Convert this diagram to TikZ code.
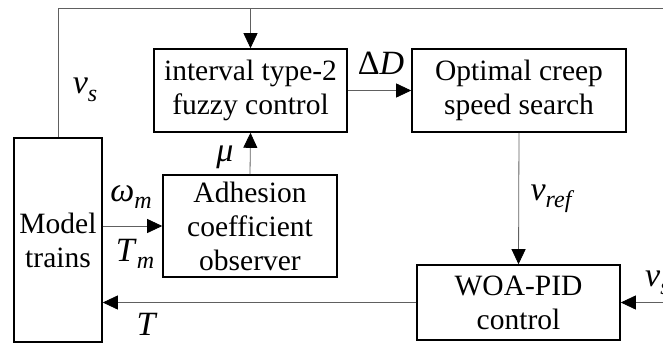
\documentclass[tikz,border=0pt]{standalone}
\usepackage{fontspec}
\setmainfont{Liberation Serif}
\newfontfamily\diagfont{Liberation Serif}
\usetikzlibrary{arrows.meta}
\newcommand{\sigsub}[2]{\textit{#1}\raisebox{-0.22em}{\fontsize{24}{24}\selectfont\itshape #2}}

\begin{document}
\begin{tikzpicture}[x=1pt,y=-1pt,>={Triangle[length=15pt,width=14pt,color=black]}]

    \useasboundingbox (0,0) rectangle (663,343);
    \clip (0,0) rectangle (663,343);

    \begin{scope}[every node/.style={rectangle,draw,line width=1.6pt,align=center,inner sep=0pt,font=\diagfont\fontsize{29.5}{34}\selectfont}]
        \node[minimum width=88pt,minimum height=204pt] (train) at (58,240) {Model\\trains};
        \node[minimum width=193pt,minimum height=83pt] (fuzzy) at (250.5,90.5) {interval type-2\\fuzzy control};
        \node[minimum width=214pt,minimum height=83pt] (creep) at (519,90.5) {Optimal creep\\speed search};
        \node[minimum width=174pt,minimum height=102pt] (observer) at (250,226) {Adhesion\\coefficient\\observer};
        \node[minimum width=203pt,minimum height=75pt] (woa) at (518.5,302.5) {WOA-PID\\control};
    \end{scope}

    \coordinate (topright) at (663,8);
    \coordinate (vsin) at (663,302.5);

    \begin{scope}[every path/.style={draw=gray!75!black,line width=0.8pt}]
        \path (train.north) |- (topright);
        \path [->] (fuzzy.north |- topright) -- (fuzzy.north);
        \path [->] (observer.north) -- (fuzzy.south);
        \path [->] (fuzzy.east) -- (creep.west);
        \path [->] (creep.south) -- (woa.north);
        \path [->] (train.east |- observer.west) -- (observer.west);
        \path [->] (woa.west) -- (train.east |- woa.west);
        \path [->] (vsin) -- (woa.east);
    \end{scope}

    \begin{scope}[every node/.style={inner sep=0pt,font=\diagfont\fontsize{34}{34}\selectfont}]
        \node (lvs) at (85,90) {\sigsub{v}{s}};
        \node (lmu) at (225,157) {\textit{μ}};
        \node (ldd) at (381,63) {Δ\textit{D}};
        \node (lom) at (131,197) {\sigsub{ω}{m}};
        \node (ltm) at (135,254) {\sigsub{T}{m}};
        \node (lt) at (147,324) {\textit{T}};
        \node (lref) at (551,199) {\sigsub{v}{ref}};
        \node[anchor=west] (lvs2) at (645,283) {\sigsub{v}{s}};
    \end{scope}

\end{tikzpicture}
\end{document}
